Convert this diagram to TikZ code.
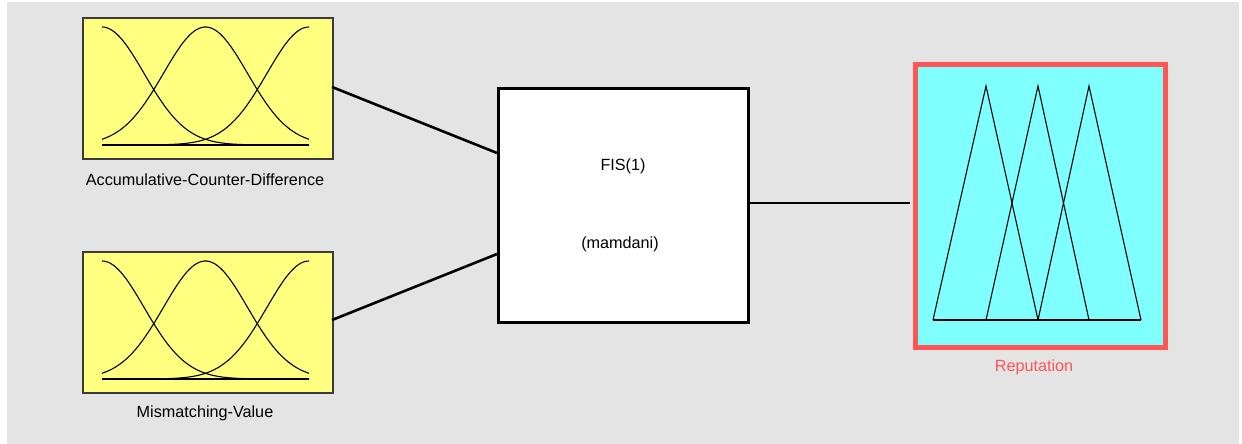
\documentclass[tikz,border=0pt]{standalone}
\usepackage{fontspec}
\setmainfont{Liberation Sans}
\definecolor{bggray}{HTML}{E4E4E4}
\definecolor{inyellow}{HTML}{FFFF80}
\definecolor{outcyan}{HTML}{80FFFF}
\definecolor{selred}{HTML}{FF5555}
\definecolor{edgegray}{HTML}{3A3A3A}
\begin{document}
\begin{tikzpicture}[x=1pt,y=-1pt,
  inbox/.style={draw=edgegray,line width=2pt,fill=inyellow,minimum width=250pt,minimum height=141pt,inner sep=0pt,anchor=north west},
  fisbox/.style={draw=black,line width=2.6pt,fill=white,minimum width=250pt,minimum height=234pt,inner sep=0pt,anchor=north west},
  outbox/.style={draw=selred,line width=5pt,fill=outcyan,minimum width=250pt,minimum height=282pt,inner sep=0pt,anchor=north west},
  lbl/.style={font=\fontsize{16.2}{18}\selectfont,inner sep=0pt},
  conn/.style={line width=2.6pt,black},
  mf/.style={line width=1.1pt,black},
]
\useasboundingbox (0,0) rectangle (1242,444);
\fill[white] (0,0) rectangle (1242,444);
\fill[bggray] (7,2) rectangle (1239,444);

% boxes
\node[inbox] (in1) at (82,17) {};
\node[inbox] (in2) at (82,251) {};
\node[fisbox] (fis) at (497,87) {};
\node[outbox] (out) at (912.5,62.5) {};

% labels
\node[lbl] (l1) at (205,180) {Accumulative-Counter-Difference};
\node[lbl] (l2) at (205,413) {Mismatching-Value};
\node[lbl] (f1) at (623,166) {FIS(1)};
\node[lbl] (f2) at (620,244) {(mamdani)};
\node[lbl,text=selred] (l3) at (1034,367) {Reputation};

% connectors
\coordinate (a1) at (332,87);
\coordinate (b1) at (497,153);
\coordinate (a2) at (332,320);
\coordinate (b2) at (497,254);
\coordinate (a3) at (747,203);
\coordinate (b3) at (910,203);
\draw[conn] (a1) -- (b1);
\draw[conn] (a2) -- (b2);
\draw[conn] (a3) -- (b3);

% gaussian MFs, box 1
\foreach \c in {102,205.5,309}{
  \draw[mf,domain=102:309,samples=80,smooth] plot (\x,{145-118*exp(-(((\x-\c)/59.5)^2))});
}
\draw[mf] (102,145) -- (309,145);
% gaussian MFs, box 2
\foreach \c in {102,205.5,309}{
  \draw[mf,domain=102:309,samples=80,smooth] plot (\x,{379-118*exp(-(((\x-\c)/59.5)^2))});
}
\draw[mf] (102,379) -- (309,379);

% triangular MFs
\draw[mf] (933,320) -- (1141,320);
\draw[mf] (933,320) -- (986,86) -- (1038,320);
\draw[mf] (986,320) -- (1038,86) -- (1089,320);
\draw[mf] (1038,320) -- (1089,86) -- (1141,320);
\end{tikzpicture}
\end{document}
